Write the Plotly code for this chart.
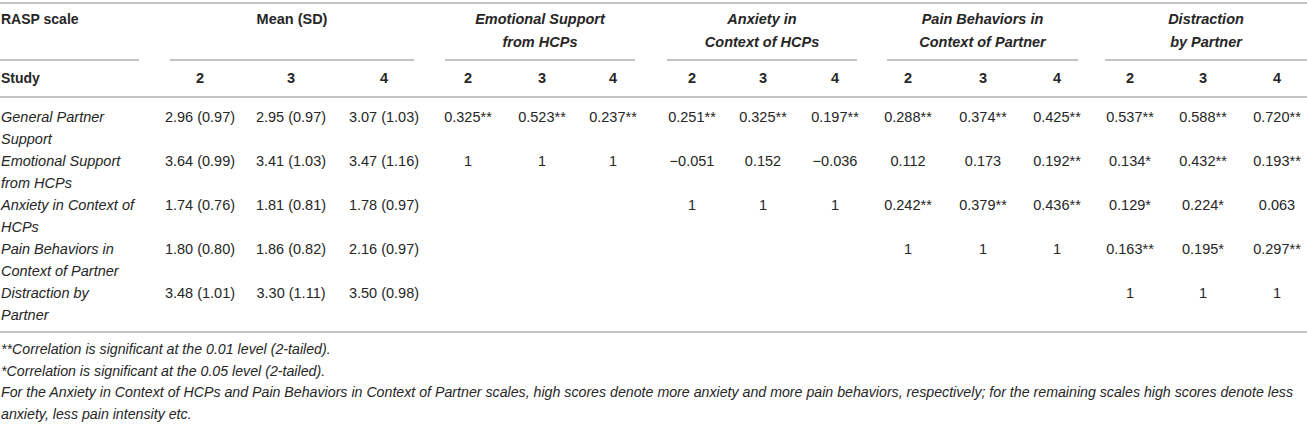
import plotly.graph_objects as go

# ---- data ----
scales = ["General Partner Support", "Emotional Support from HCPs",
          "Anxiety in Context of HCPs", "Pain Behaviors in Context of Partner",
          "Distraction by Partner"]
# row labels as printed (wrapped over two lines)
label_lines = [["General Partner", "Support"],
               ["Emotional Support", "from HCPs"],
               ["Anxiety in Context of", "HCPs"],
               ["Pain Behaviors in", "Context of Partner"],
               ["Distraction by", "Partner"]]
studies = ["2", "3", "4"]

mean_s2 = [2.96, 3.64, 1.74, 1.80, 3.48]
sd_s2 = [0.97, 0.99, 0.76, 0.80, 1.01]
mean_s3 = [2.95, 3.41, 1.81, 1.86, 3.30]
sd_s3 = [0.97, 1.03, 0.81, 0.82, 1.11]
mean_s4 = [3.07, 3.47, 1.78, 2.16, 3.50]
sd_s4 = [1.03, 1.16, 0.97, 0.97, 0.98]

# correlations with each scale (columns), rows = scales above; None = blank
group_titles = [["Emotional Support", "from HCPs"],
                ["Anxiety in", "Context of HCPs"],
                ["Pain Behaviors in", "Context of Partner"],
                ["Distraction", "by Partner"]]
r_emotional = [[0.325, 0.523, 0.237], [1, 1, 1], None, None, None]
sig_emotional = [[2, 2, 2], [0, 0, 0], None, None, None]
r_anxiety = [[0.251, 0.325, 0.197], [-0.051, 0.152, -0.036], [1, 1, 1], None, None]
sig_anxiety = [[2, 2, 2], [0, 0, 0], [0, 0, 0], None, None]
r_pain = [[0.288, 0.374, 0.425], [0.112, 0.173, 0.192], [0.242, 0.379, 0.436], [1, 1, 1], None]
sig_pain = [[2, 2, 2], [0, 0, 2], [2, 2, 2], [0, 0, 0], None]
r_distraction = [[0.537, 0.588, 0.720], [0.134, 0.432, 0.193], [0.129, 0.224, 0.063],
                 [0.163, 0.195, 0.297], [1, 1, 1]]
sig_distraction = [[2, 2, 2], [1, 2, 2], [1, 1, 0], [2, 1, 2], [0, 0, 0]]

footnotes = ["**Correlation is significant at the 0.01 level (2-tailed).",
             "*Correlation is significant at the 0.05 level (2-tailed).",
             "For the Anxiety in Context of HCPs and Pain Behaviors in Context of Partner scales, "
             "high scores denote more anxiety and more pain behaviors, respectively; for the remaining "
             "scales high scores denote less",
             "anxiety, less pain intensity etc."]

# ---- layout helpers ----
W, H = 1307, 424
FONT = "Liberation Sans, Arial, sans-serif"
TXT = "#262626"
RULE = "#c4c4c4"
col_x = [[200, 291, 384], [468, 542, 613], [692, 763, 835], [908, 983, 1057], [1130, 1203, 1277]]
group_span = [(170, 414), (445, 635), (667, 857), (887, 1078), (1105, 1307)]
row_y0, row_pitch, line_gap = 118.5, 44, 21.5
head_y = [20.5, 43.5, 79.5]
foot_y = [350.5, 372.5, 393.5, 415]


def fmt_r(v, s):
    if v == 1:
        return "1"
    t = "{:.3f}".format(abs(v))
    if v < 0:
        t = "\u2212" + t
    return t + "*" * s


fig = go.Figure()


def add_text(xs, ys, texts, pos="middle center", size=14.5):
    fig.add_trace(go.Scatter(x=xs, y=ys, text=texts, mode="text", textposition=pos,
                             textfont=dict(family=FONT, size=size, color=TXT),
                             hoverinfo="skip", showlegend=False, cliponaxis=False))


# header
add_text([1], [head_y[0]], ["<b>RASP scale</b>"], pos="middle right", size=14)
add_text([(group_span[0][0] + group_span[0][1]) / 2], [head_y[0]], ["<b>Mean (SD)</b>"])
for g, title in enumerate(group_titles):
    cx = (group_span[g + 1][0] + group_span[g + 1][1]) / 2
    add_text([cx, cx], head_y[:2], ["<b><i>%s</i></b>" % title[0], "<b><i>%s</i></b>" % title[1]])
add_text([1], [head_y[2]], ["<b>Study</b>"], pos="middle right", size=14)
xs = [x for grp in col_x for x in grp]
add_text(xs, [head_y[2]] * len(xs), ["<b>%s</b>" % s for _ in col_x for s in studies])

# row labels
lx, ly, lt = [], [], []
for i, lines in enumerate(label_lines):
    for k, ln in enumerate(lines):
        lx.append(1)
        ly.append(row_y0 + i * row_pitch + k * line_gap)
        lt.append("<i>%s</i>" % ln)
add_text(lx, ly, lt, pos="middle right")

# means (SD)
mx, my, mt = [], [], []
for j, (m, sd) in enumerate([(mean_s2, sd_s2), (mean_s3, sd_s3), (mean_s4, sd_s4)]):
    for i in range(len(scales)):
        mx.append(col_x[0][j])
        my.append(row_y0 + i * row_pitch)
        mt.append("%.2f (%.2f)" % (m[i], sd[i]))
add_text(mx, my, mt)

# correlations
cx_, cy_, ct_ = [], [], []
for g, (rr, ss) in enumerate([(r_emotional, sig_emotional), (r_anxiety, sig_anxiety),
                              (r_pain, sig_pain), (r_distraction, sig_distraction)]):
    for i in range(len(scales)):
        if rr[i] is None:
            continue
        for j in range(3):
            cx_.append(col_x[g + 1][j])
            cy_.append(row_y0 + i * row_pitch)
            ct_.append(fmt_r(rr[i][j], ss[i][j]))
add_text(cx_, cy_, ct_)

# footnotes
add_text([1] * len(footnotes), foot_y, ["<i>%s</i>" % f for f in footnotes],
         pos="middle right", size=14.2)

# rules
shapes = []


def hline(x0, x1, y):
    shapes.append(dict(type="line", xref="x", yref="y", x0=x0, x1=x1, y0=y, y1=y,
                       line=dict(color=RULE, width=2)))


hline(0, W, 3)
hline(0, 139, 60)
for a, b in group_span:
    hline(a, b, 60)
hline(0, W, 97)
hline(0, W, 332)

fig.update_layout(
    width=W, height=H, margin=dict(l=0, r=0, t=0, b=0),
    paper_bgcolor="white", plot_bgcolor="white", shapes=shapes,
    xaxis=dict(range=[0, W], visible=False, fixedrange=True),
    yaxis=dict(range=[H, 0], visible=False, fixedrange=True),
)

# drop the default page margin so the figure fills the window
fig.write_html("out.html", config={"displayModeBar": False},
               post_script="document.body.style.margin='0';document.body.style.overflow='hidden';")
